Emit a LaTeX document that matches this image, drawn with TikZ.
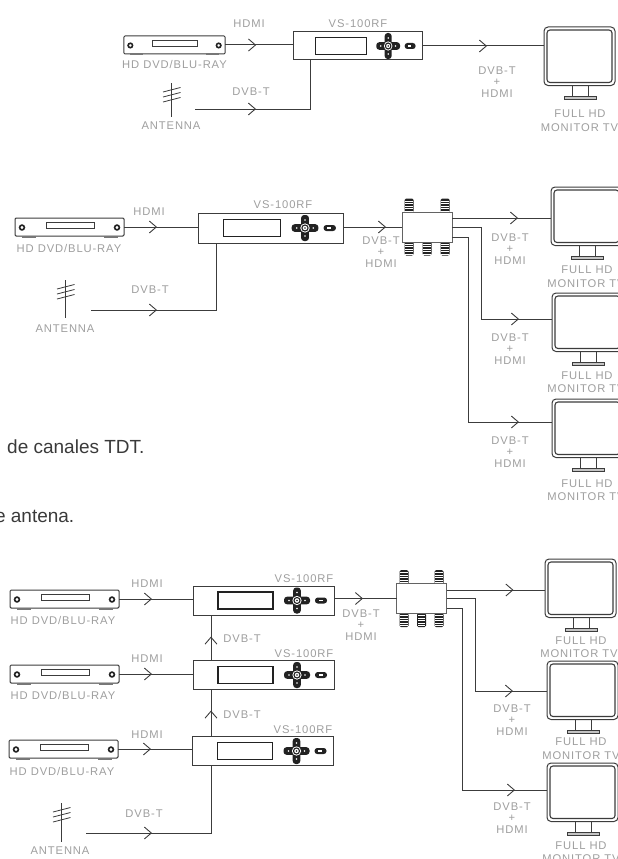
\documentclass[tikz,border=0pt]{standalone}
\usepackage{fontspec}
\usetikzlibrary{arrows.meta,decorations.markings}
\setmainfont{Liberation Sans}
\newfontfamily\lblfont[LetterSpace=8]{Liberation Sans}
\definecolor{linea}{HTML}{3C3C3C}
\definecolor{rotulo}{HTML}{9E9E9E}
\definecolor{teclas}{HTML}{222222}
\definecolor{cuerpo}{HTML}{3A3A3A}

\begin{document}
\begin{tikzpicture}[
    x=1pt, y=-1pt,
    % Estilos de las conexiones y de los rotulos
    enlace/.style={linea, line width=1pt},
    puntaen/.style={postaction={decorate}, decoration={markings,
        mark=at position #1 with {\arrow{Straight Barb[length=7pt,width=12pt,line width=0.9pt]}}}},
    rot/.style={font=\lblfont\fontsize{11.2}{11.2}\selectfont, text=rotulo, inner sep=0pt,
        text height=8pt, text depth=0pt},
    rotsuma/.style={font=\lblfont\fontsize{11.2}{11.4}\selectfont, text=rotulo, inner sep=0pt,
        align=center},
    caja/.style={draw=linea, line width=1pt, fill=white, inner sep=0pt, outer sep=0pt},
    frase/.style={font=\fontsize{19}{20}\selectfont, text=cuerpo, inner sep=0pt,
        text height=13.6pt, text depth=0pt}
]
\useasboundingbox (0,0) rectangle (618,859);
\clip (0,0) rectangle (618,859);

% =========================================================
% === MACROS DE LOS APARATOS                            ===
% =========================================================

% Reproductor: #1 nombre, #2,#3 centro, #4 escala
\def\playerbox#1(#2,#3)#4{
    \node[caja, rounded corners=1.2pt, minimum width={#4*109pt}, minimum height=18pt] (#1) at (#2,#3) {};
    \begin{scope}[shift={(#2,#3)}, scale=#4]
        \fill[linea!70] (-48,9) rectangle (-34,11);
        \fill[linea!70] (34,9) rectangle (48,11);
        \draw[linea, line width=0.8pt] (-23.5,-5) rectangle (24.5,1);
        \draw[teclas, line width=1.6pt] (-47.5,0.5) circle (2.4);
        \draw[teclas, line width=1.6pt] (47.5,0.5) circle (2.4);
    \end{scope}
}

% Modulador: #1 nombre, #2,#3 centro, #4 ancho, #5 alto, #6 escala
\def\vsbox#1(#2,#3)#4#5#6{
    \node[caja, minimum width=#4pt, minimum height=#5pt] (#1) at (#2,#3) {};
    \begin{scope}[shift={(#2,#3)}, xscale=#6]
        \draw[teclas, line width=1.1pt] (-45.5,-8.5) rectangle (9.5,8.5);
        \begin{scope}[shift={(33.5,0)}]
            \fill[teclas, rounded corners=3pt] (-13,-3.8) rectangle (13,3.8);
            \fill[teclas, rounded corners=3pt] (-3.8,-13) rectangle (3.8,13);
            \fill[white] (0,0) circle (4.6);
            \draw[teclas, line width=1.1pt] (0,0) circle (3);
            \fill[teclas] (0,0) circle (0.9);
            \foreach \px/\py in {-8/0, 8/0, 0/-8, 0/8}
                \fill[white] (\px,\py) circle (0.9);
        \end{scope}
        \fill[teclas, rounded corners=2.8pt] (51.5,-3) rectangle (63.5,3);
        \fill[white] (55,-0.7) rectangle (59,0.7);
    \end{scope}
}

% Distribuidor: #1 nombre, #2,#3 centro, #4 separacion de conectores
\def\splitbox#1(#2,#3)#4{
    \foreach \cx/\cy in {-#4/-21.5, #4/-21.5, -#4/21.5, 0/21.5, #4/21.5} {
        \begin{scope}[shift={(#2,#3)}, shift={(\cx,\cy)}]
            \fill[teclas, rounded corners=1.5pt] (-4.5,-7) rectangle (4.5,7);
            \foreach \ry in {-4.5,-2,0.5,3,5.5}
                \draw[white, line width=0.5pt] (-3.6,\ry) -- (3.6,\ry);
        \end{scope}
    }
    \node[caja, draw=linea!80, line width=1pt, minimum width=50pt, minimum height=30pt] (#1) at (#2,#3) {};
}

% Monitor: #1 nombre, #2,#3 esquina superior izquierda
\def\tvbox#1(#2,#3){
    \node[caja, rounded corners=4pt, minimum width=71pt, minimum height=58.5pt] (#1) at ({#2+35.5},{#3+29.25}) {};
    \begin{scope}[shift={(#2,#3)}]
        \draw[linea, line width=1.1pt, rounded corners=3pt] (3,3) rectangle (68,55.5);
        \draw[linea, line width=1pt] (28,58.5) -- (28,69) (44,58.5) -- (44,69);
        \draw[linea, fill=linea!30, line width=0.8pt] (20,69) rectangle (52,72);
    \end{scope}
}

% Antena: #1 nombre, #2,#3 extremo superior, #4 altura
\def\antennabox#1(#2,#3)#4{
    \coordinate (#1) at (#2,#3);
    \begin{scope}[shift={(#2,#3)}]
        \draw[linea, line width=0.8pt] (0,0) -- (0,#4);
        \foreach \by in {0,5,10}
            \draw[linea, line width=0.8pt] (-8,{9+\by}) -- (9.5,{4.5+\by});
    \end{scope}
}

% --- Frases cortadas a la izquierda ---
\node[frase, anchor=west] (fraseA) at (7,447) {de canales TDT.};
\node[frase, anchor=east] (fraseB) at (74.5,516) {e antena.};

% =========================================================
% === ESQUEMA SUPERIOR                                  ===
% =========================================================
\playerbox{P1}(174.5,45){0.93}
\vsbox{V1}(357.5,46){129}{28}{0.915}
\tvbox{T1}(544,27)
\antennabox{A1}(171,83){34}
\coordinate (E1) at (195,109);
\coordinate (J1) at (310,60);

\draw[enlace, puntaen=31pt] (P1.east) -- (P1.east -| V1.west);
\draw[enlace, puntaen=65pt] (V1.east) -- (V1.east -| T1.west);
\draw[enlace, puntaen=61pt] (E1) -| (J1);

\node[rot] (lP1) at (174.5,65) {HD DVD/BLU-RAY};
\node[rot] (lH1) at (249,24) {HDMI};
\node[rot] (lV1) at (358,24) {VS-100RF};
\node[rot] (lD1) at (251,91) {DVB-T};
\node[rot] (lA1) at (171,125) {ANTENNA};
\node[rotsuma] (lS1) at (497,82) {DVB-T\\+\\HDMI};
\node[rot] (lF1) at (580,113) {FULL HD};
\node[rot] (lM1) at (579.5,127) {MONITOR TV};

% =========================================================
% === ESQUEMA CENTRAL                                   ===
% =========================================================
\playerbox{P2}(69.5,227){1}
\vsbox{V2}(270.5,228){145}{30}{1.03}
\splitbox{S2}(427,227){18}
\tvbox{T2a}(551,187)
\tvbox{T2b}(552,293)
\tvbox{T2c}(552,399)
\antennabox{A2}(65,280){38}
\coordinate (E2) at (91,310);
\coordinate (J2) at (216,243);
\coordinate (B2) at (481,319);
\coordinate (C2) at (468,422);

\draw[enlace, puntaen=33pt] (P2.east) -- (P2.east -| V2.west);
\draw[enlace, puntaen=43pt] (S2.west -| V2.east) -- (S2.west);
\draw[enlace, puntaen=66pt] (E2) -| (J2);
\draw[enlace, puntaen=66pt] ([yshift=9pt]S2.east) -- ([yshift=9pt]S2.east -| T2a.west);
\draw[enlace, puntaen=159pt] (S2.east) -| (B2) -- (B2 -| T2b.west);
\draw[enlace, puntaen=252pt] ([yshift=-10pt]S2.east) -| (C2) -- (C2 -| T2c.west);

\node[rot] (lP2) at (69,248) {HD DVD/BLU-RAY};
\node[rot] (lH2) at (149,211) {HDMI};
\node[rot] (lV2) at (283,204) {VS-100RF};
\node[rot] (lD2) at (150,289) {DVB-T};
\node[rot] (lA2) at (65,328) {ANTENNA};
\node[rotsuma] (lS2) at (381,252) {DVB-T\\+\\HDMI};
\node[rotsuma] (lS2a) at (510,249) {DVB-T\\+\\HDMI};
\node[rotsuma] (lS2b) at (510,349) {DVB-T\\+\\HDMI};
\node[rotsuma] (lS2c) at (510,452) {DVB-T\\+\\HDMI};
\node[rot] (lF2a) at (587,269) {FULL HD};
\node[rot] (lM2a) at (586,283) {MONITOR TV};
\node[rot] (lF2b) at (587,375) {FULL HD};
\node[rot] (lM2b) at (586,388) {MONITOR TV};
\node[rot] (lF2c) at (587,483) {FULL HD};
\node[rot] (lM2c) at (586,496) {MONITOR TV};

% =========================================================
% === ESQUEMA INFERIOR                                  ===
% =========================================================
\playerbox{P3a}(64.5,599){1}
\playerbox{P3b}(64.5,674){1}
\playerbox{P3c}(63.5,749){1}
\vsbox{V3a}(263.5,600.5){141}{29}{1}
\vsbox{V3b}(263.5,675){141}{29}{1}
\vsbox{V3c}(263,751){141}{29}{1}
\splitbox{S3}(421.5,598.5){17.5}
\tvbox{T3a}(545,559)
\tvbox{T3b}(547,661)
\tvbox{T3c}(547,763)
\antennabox{A3}(61,803){39}
\coordinate (E3) at (86,833);
\coordinate (B3) at (475,691);
\coordinate (C3) at (462,790);

\draw[enlace, puntaen=33pt] (P3a.east) -- (P3a.east -| V3a.west);
\draw[enlace, puntaen=33pt] (P3b.east) -- (P3b.east -| V3b.west);
\draw[enlace, puntaen=33pt] (P3c.east) -- (P3c.east -| V3c.west);
\draw[enlace, puntaen=29pt] (S3.west -| V3a.east) -- (S3.west);
\draw[enlace, puntaen=66pt] (E3) -| ([xshift=-52pt]V3c.south);
\draw[enlace, puntaen=26pt] ([xshift=-52pt]V3c.north) -- ([xshift=-52.5pt]V3b.south);
\draw[enlace, puntaen=24pt] ([xshift=-52.5pt]V3b.north) -- ([xshift=-52.5pt]V3a.south);
\draw[enlace, puntaen=67pt] ([yshift=8.5pt]S3.east) -- ([yshift=8.5pt]S3.east -| T3a.west);
\draw[enlace, puntaen=159pt] (S3.east) -| (B3) -- (B3 -| T3b.west);
\draw[enlace, puntaen=250pt] ([yshift=-10pt]S3.east) -| (C3) -- (C3 -| T3c.west);

\node[rot] (lP3a) at (63,620) {HD DVD/BLU-RAY};
\node[rot] (lP3b) at (63,695) {HD DVD/BLU-RAY};
\node[rot] (lP3c) at (62,771) {HD DVD/BLU-RAY};
\node[rot] (lH3a) at (147,583) {HDMI};
\node[rot] (lH3b) at (147,658) {HDMI};
\node[rot] (lH3c) at (147,734) {HDMI};
\node[rot] (lV3a) at (304,578) {VS-100RF};
\node[rot] (lV3b) at (304,653) {VS-100RF};
\node[rot] (lV3c) at (303,729) {VS-100RF};
\node[rot] (lD3a) at (242,638) {DVB-T};
\node[rot] (lD3b) at (242,714) {DVB-T};
\node[rot] (lD3c) at (144,813) {DVB-T};
\node[rot] (lA3) at (60,850) {ANTENNA};
\node[rotsuma] (lS3) at (361,625) {DVB-T\\+\\HDMI};
\node[rotsuma] (lS3b) at (512,720) {DVB-T\\+\\HDMI};
\node[rotsuma] (lS3c) at (512,818) {DVB-T\\+\\HDMI};
\node[rot] (lF3a) at (581,640) {FULL HD};
\node[rot] (lM3a) at (579,653) {MONITOR TV};
\node[rot] (lF3b) at (581,741) {FULL HD};
\node[rot] (lM3b) at (581,755) {MONITOR TV};
\node[rot] (lF3c) at (581,845) {FULL HD};
\node[rot] (lM3c) at (581,858) {MONITOR TV};

\end{tikzpicture}
\end{document}
